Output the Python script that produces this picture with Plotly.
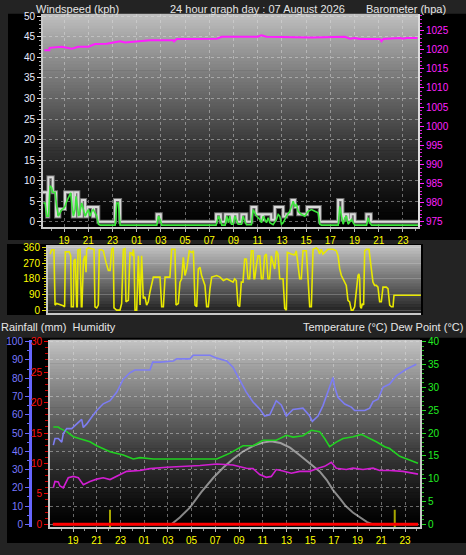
import pandas as pd
import plotly.graph_objects as go

BASE = pd.Timestamp("2026-08-06 00:00")


def ts(hours):
    return [BASE + pd.Timedelta(hours=h) if h is not None else None for h in hours]


# ---------------- DATA (hours counted from 2026-08-06 00:00) ----------------
# wind gust (kph), stepped
gust_t = [17.26, 17.60, 17.70, 18.07, 18.34, 18.61, 19.08, 19.72, 19.91, 20.18,
          20.46, 20.74, 20.93, 21.37, 21.48, 21.83, 23.21, 23.63, 26.66, 26.99,
          31.56, 31.95, 32.31, 32.83, 32.97, 33.32, 33.65, 34.07, 34.48, 34.89,
          35.31, 35.45, 36.11, 36.41, 37.10, 37.35, 37.79, 38.07, 38.34, 39.08,
          40.13, 41.64, 42.00, 42.14, 42.47, 42.69, 43.02, 43.98, 44.35, 48.24]
gust_v = [7.2, 1.3, 10.8, 7.2, 1.3, 3.1, 7.2, 1.3, 7.2, 1.3,
          5.3, 1.3, 3.6, 1.3, 3.6, 0, 5.3, 0, 1.8, 0,
          1.8, 0, 1.8, 0, 1.8, 0, 1.8, 0, 3.6, 1.8,
          0.5, 1.8, 0.5, 3.6, 1.3, 1.8, 5.3, 3.6, 1.8, 3.6,
          0, 5.3, 0.5, 1.8, 0.5, 1.8, 0, 1.8, 0, 0]

# average wind speed (kph)
avg_t = [17.29, 17.43, 17.57, 17.71, 17.84, 17.98, 18.06, 18.26, 18.39, 18.53,
         18.67, 18.81, 18.95, 19.08, 19.22, 19.44, 19.55, 19.66, 19.77, 19.91,
         19.99, 20.10, 20.21, 20.32, 20.46, 20.60, 20.74, 20.87, 21.01, 21.15,
         21.29, 21.42, 21.56, 21.70, 21.84, 21.98, 23.22, 23.35, 23.49, 23.63,
         26.66, 26.80, 26.94, 27.07, 31.56, 31.76, 31.89, 32.03, 32.31, 32.44,
         32.58, 32.69, 32.83, 32.97, 33.11, 33.24, 33.38, 33.66, 33.79, 33.93,
         34.07, 34.48, 34.62, 34.76, 34.90, 35.17, 35.31, 35.45, 35.58, 35.72,
         35.86, 36.00, 36.27, 36.55, 36.69, 36.82, 36.96, 37.10, 37.38, 37.65,
         37.93, 38.06, 38.20, 38.34, 38.62, 38.89, 39.17, 39.44, 39.72, 39.99,
         40.13, 40.27, 41.65, 41.78, 41.92, 42.06, 42.20, 42.33, 42.47, 42.75,
         42.89, 43.02, 43.99, 44.12, 44.26, 44.40, 48.24]
avg_v = [5.4, 5.4, 2.2, 2.2, 9.6, 9.1, 8.0, 8.0, 4.6, 2.2,
         3.0, 3.8, 4.0, 4.6, 5.8, 7.5, 7.9, 4.6, 2.2, 3.8,
         7.0, 4.6, 2.2, 3.4, 5.4, 3.8, 2.2, 3.0, 3.8, 2.2,
         3.4, 3.8, 3.0, 2.2, 0.24, 0, 0, 5.4, 5.4, 0,
         0, 2.2, 1.4, 0, 0, 2.2, 1.4, 0, 0, 2.2,
         0.6, 2.2, 0.24, 0.24, 2.2, 1.0, 0.24, 0.24, 2.2, 1.0,
         0.1, 0.1, 3.8, 3.0, 2.2, 1.4, 0.6, 2.2, 1.4, 0.6,
         1.8, 0.6, 0.1, 1.4, 2.6, 2.2, 0.24, 0.6, 2.2, 3.4,
         5.8, 4.6, 5.0, 3.4, 2.6, 2.2, 3.4, 3.8, 3.4, 3.0,
         0.24, 0, 0, 4.6, 2.2, 0.24, 1.8, 2.2, 0.24, 1.4,
         0.6, 0, 0, 1.8, 0.6, 0, 0]

# barometer (hPa)
baro_t = [17.37, 17.79, 17.80, 18.81, 19.64, 20.18, 21.01, 21.56, 22.53, 23.63,
          24.04, 24.73, 26.11, 28.04, 28.09, 28.31, 31.62, 32.03, 32.97, 35.00,
          35.31, 35.72, 39.44, 42.20, 42.61, 43.02, 43.44, 45.09, 45.22, 45.36,
          46.74, 47.02, 47.29, 48.20]
baro_v = [1019.9, 1019.9, 1020.5, 1020.8, 1020.3, 1020.8, 1020.8, 1021.5, 1021.6, 1022.2,
          1021.9, 1022.1, 1022.5, 1022.5, 1022.2, 1022.8, 1022.9, 1023.4, 1023.4, 1023.4,
          1023.8, 1023.4, 1023.2, 1023.4, 1022.9, 1023.1, 1022.8, 1022.8, 1022.2, 1022.8,
          1023.1, 1022.9, 1023.1, 1023.1]

# wind direction (degrees)
wdir_t = [17.23, 17.37, 17.56, 17.65, 17.78, 18.06, 18.34, 18.45, 18.51, 18.84,
          18.96, 19.01, 19.18, 19.23, 19.35, 19.46, 19.51, 19.57, 19.74, 19.85,
          19.90, 20.02, 20.15, 20.24, 20.29, 20.43, 20.71, 20.91, 20.99, 21.13,
          21.27, 21.35, 21.55, 21.69, 21.91, 22.11, 22.25, 22.39, 22.52, 22.58,
          22.80, 23.08, 23.22, 23.36, 23.50, 23.58, 23.78, 23.92, 24.06, 24.14,
          24.20, 24.25, 24.34, 24.48, 24.62, 24.76, 24.89, 25.03, 25.17, 25.31,
          25.45, 25.59, 25.87, 26.43, 26.57, 26.71, 26.85, 27.26, 27.40, 27.68,
          27.77, 27.96, 28.10, 28.24, 28.38, 28.52, 28.66, 28.88, 29.08, 29.22,
          29.36, 29.50, 29.63, 29.77, 29.91, 30.19, 30.33, 30.47, 30.61, 30.75,
          31.17, 31.45, 31.73, 32.01, 32.29, 32.54,
          32.67, 32.81, 32.95, 33.09, 33.23, 33.37, 33.51, 33.65, 33.79, 33.93,
          34.07, 34.21, 34.29, 34.35, 34.49, 34.63, 34.77, 34.91, 35.04, 35.18,
          35.32, 35.46, 35.60, 35.74, 36.02, 36.16, 36.30, 36.44, 36.72, 36.86,
          37.00, 37.08, 37.41, 37.69, 37.83, 38.11, 38.25, 38.39, 38.67, 38.95,
          39.09, 39.23, 39.50, 39.64, 39.78, 39.92, 40.06, 40.20, 40.34, 40.48,
          40.90, 41.18, 41.32, 41.46, 41.60, 41.74, 42.01, 42.15, 42.29, 42.43,
          42.57, 42.71, 42.85, 42.99, 43.07, 43.13, 43.19, 43.27, 43.35, 43.46,
          43.55, 43.69, 43.91, 44.02, 44.10, 44.24, 44.38, 44.52, 44.66, 44.80,
          44.94, 45.08, 45.36, 45.50, 45.64, 45.78, 45.92, 46.00, 46.20, 47.03,
          48.25]
wdir_v = [324, 349, 349, 29, 38, 32, 25, 19, 337, 337,
          314, 19, 19, 286, 295, 19, 19, 349, 352, 19,
          19, 286, 314, 219, 352, 360, 356, 352, 19, 13,
          29, 349, 349, 343, 276, 229, 229, 352, 360, 13,
          0, 0, 38, 352, 356, 48, 57, 333, 330, 314,
          352, 314, 0, 0, 314, 29, 314, 67, 76, 29,
          48, 105, 191, 191, 19, 19, 191, 191, 352, 352,
          29, 38, 162, 181, 305, 200, 238, 343, 333, 343,
          29, 19, 238, 248, 200, 143, 19, 19, 124, 191,
          200, 191, 171, 181, 171, 162,
          181, 171, 29, 19, 162, 162, 295, 295, 181, 181,
          343, 343, 181, 181, 257, 314, 314, 181, 181, 314,
          324, 181, 181, 314, 238, 343, 324, 181, 181, 10,
          0, 333, 324, 318, 343, 181, 181, 343, 343, 19,
          19, 352, 360, 352, 324, 352, 324, 333, 343, 352,
          352, 343, 314, 238, 200, 181, 143, 57, 48, 0,
          0, 19, 114, 200, 210, 181, 19, 10, 38, 29,
          343, 352, 352, 295, 257, 162, 143, 143, 133, 48,
          48, 133, 133, 124, 29, 19, 19, 86, 86, 86,
          86]

# humidity (%)
hum_t = [17.34, 17.48, 17.76, 18.05, 18.18, 18.47, 18.89, 19.73, 19.87, 20.16,
         20.58, 21.00, 21.55, 22.12, 22.68, 23.24, 23.81, 24.23, 25.49, 25.72,
         26.34, 27.46, 27.74, 28.87, 29.14, 30.55, 31.12, 31.96, 32.49, 33.06,
         33.61, 34.18, 34.74, 35.16, 35.59, 36.14, 36.56, 36.99, 37.55, 38.39,
         38.96, 39.18, 39.66, 40.08, 40.50, 40.92, 41.07, 41.34, 41.91, 42.47,
         42.75, 43.60, 44.02, 44.30, 44.72, 45.14, 45.70, 46.26, 47.10, 47.95]
hum_v = [43.4, 47.0, 47.0, 45.0, 49.7, 52.4, 52.4, 57.5, 53.0, 55.0,
         58.8, 62.3, 66.0, 67.7, 72.3, 79.5, 83.0, 84.5, 84.5, 88.8,
         88.8, 89.4, 90.6, 90.6, 92.6, 92.6, 91.0, 89.4, 86.0, 79.5,
         72.4, 67.0, 63.2, 59.3, 60.0, 67.7, 65.4, 59.3, 62.9, 63.6,
         59.3, 56.4, 59.3, 65.0, 73.1, 80.4, 75.0, 69.6, 65.9, 64.2,
         62.3, 62.3, 63.6, 67.2, 68.5, 75.0, 76.8, 81.3, 84.9, 87.6]

# temperature (°C)
temp_t = [17.34, 17.76, 17.90, 18.47, 19.03, 19.73, 20.43, 21.00, 22.12, 23.24,
          24.08, 24.65, 25.77, 31.12, 31.68, 32.24, 33.33, 34.18, 35.02, 36.14,
          36.99, 37.55, 38.39, 39.09, 39.80, 40.22, 40.64, 41.20, 41.77, 42.61,
          43.31, 44.02, 44.58, 45.28, 45.70, 46.55, 47.39, 48.09]
temp_v = [21.3, 21.3, 21.0, 20.3, 19.2, 18.7, 18.1, 17.2, 15.9, 15.2,
          14.3, 14.6, 14.3, 14.3, 14.9, 15.6, 17.2, 17.2, 18.4, 18.4,
          19.5, 19.1, 19.4, 20.6, 20.3, 18.8, 17.0, 18.0, 18.8, 19.2,
          19.7, 18.8, 18.1, 17.0, 16.6, 14.9, 14.1, 13.4]

# dew point (°C)
dew_t = [17.34, 17.48, 17.76, 17.90, 18.18, 18.33, 18.60, 19.03, 19.45, 19.87,
         20.43, 21.00, 21.55, 22.12, 22.68, 23.53, 24.65, 25.49, 26.90, 28.58,
         29.71, 31.12, 32.49, 33.61, 34.18, 34.74, 35.30, 35.72, 36.14, 36.71,
         37.41, 38.11, 38.96, 39.66, 40.22, 40.78, 41.20, 42.04, 42.61, 43.45,
         44.30, 44.86, 45.70, 46.82, 48.09]
dew_v = [8.0, 9.4, 9.3, 8.4, 8.0, 8.7, 10.2, 10.5, 10.2, 8.7,
         9.4, 9.9, 10.2, 9.8, 10.5, 11.6, 11.8, 12.2, 12.5, 12.7,
         12.9, 13.2, 13.0, 12.3, 12.2, 10.9, 10.3, 10.5, 12.0, 11.7,
         11.2, 11.6, 11.6, 12.3, 12.7, 13.6, 12.3, 12.0, 12.3, 12.0,
         12.3, 11.8, 11.8, 11.6, 11.0]

# solar curve (drawn on the temperature scale)
sol_t = [17.30, 27.30, 28.00, 28.87, 29.80, 30.83, 31.70, 32.49, 33.30, 34.20,
         35.00, 35.70, 36.50, 37.30, 38.10, 39.00, 39.80, 40.40, 40.90, 41.50,
         42.00, 42.60, 43.20, 43.80, 44.30, 48.10]
sol_v = [0, 0, 1.5, 3.7, 7.0, 10.2, 12.5, 14.3, 15.9, 17.2,
         17.9, 18.2, 17.8, 16.8, 15.2, 13.4, 11.6, 9.7, 7.6, 5.7,
         4.0, 2.6, 1.5, 0.5, 0, 0]

# rainfall (mm)
rain_t = [17.30, 48.10]
rain_v = [0, 0]

# daily rollover markers
marker_t = [22.12, 46.13]
marker_h = 3.2

# tick labels
TICK0 = "2026-08-06 19:00"
title_main = "24 hour graph day : 07 August 2026"

# ---------------- LAYOUT HELPERS ----------------
W, H = 466, 555


def px(x):
    return x / W


def py(y):
    return 1 - y / H


BG = "#232323"
FONT = "Liberation Sans"
GRID = "rgba(225,225,225,0.45)"
AXL = "#c8c8c8"

shapes = []


def box(x0, y0, x1, y1, color):
    shapes.append(dict(type="rect", xref="paper", yref="paper", x0=px(x0), x1=px(x1),
                       y0=py(y1), y1=py(y0), fillcolor=color, line_width=0, layer="below"))


def gradient(x0, x1, y0, y1, top, bottom, gamma, n):
    for i in range(n):
        t = (i + 0.5) / n
        g = int(round(bottom + (top - bottom) * (1 - t) ** gamma))
        ya = y0 + (y1 - y0) * i / n
        yb = min(y1, y0 + (y1 - y0) * (i + 1) / n + 0.7)
        shapes.append(dict(type="rect", xref="paper", yref="paper", x0=px(x0), x1=px(x1),
                           y0=py(yb), y1=py(ya), fillcolor=f"rgb({g},{g},{g})",
                           line_width=0, layer="below"))


box(8, 10, 466, 239, "#000000")
box(7, 243, 423, 315, "#000000")
box(7, 338, 466, 546, "#000000")
gradient(43, 418, 10, 226, 192, 0, 1.3, 72)
gradient(48, 421, 244, 313, 198, 30, 1.0, 23)
gradient(50, 420, 340, 530, 196, 0, 1.3, 64)

fig = go.Figure()

# top panel
fig.add_trace(go.Scatter(x=ts(gust_t), y=gust_v, mode="lines", line=dict(color="#6e6e6e", width=4, shape="hv"),
                         xaxis="x", yaxis="y", hoverinfo="skip"))
fig.add_trace(go.Scatter(x=ts(gust_t), y=gust_v, mode="lines", line=dict(color="#dadada", width=2, shape="hv"),
                         xaxis="x", yaxis="y", name="Gust"))
fig.add_trace(go.Scatter(x=ts(avg_t), y=avg_v, mode="lines", line=dict(color="#3ce63c", width=1.6),
                         xaxis="x", yaxis="y3", name="Average"))
fig.add_trace(go.Scatter(x=ts(baro_t), y=baro_v, mode="lines", line=dict(color="#ff1eff", width=2),
                         xaxis="x", yaxis="y2", name="Barometer"))

# wind direction panel
fig.add_trace(go.Scatter(x=ts(wdir_t), y=wdir_v, mode="lines", line=dict(color="#e8e800", width=1.6),
                         xaxis="x2", yaxis="y4", name="Direction"))

# bottom panel
fig.add_trace(go.Scatter(x=ts(rain_t), y=rain_v, mode="lines", line=dict(color="#ff0000", width=3),
                         xaxis="x3", yaxis="y8", name="Rain"))
fig.add_trace(go.Scatter(x=ts(sol_t), y=sol_v, mode="lines", line=dict(color="rgba(220,220,220,0.6)", width=2),
                         xaxis="x3", yaxis="y6", name="Solar"))
mx, my = [], []
for t in marker_t:
    mx += [t, t, None]
    my += [-0.6, marker_h, None]
fig.add_trace(go.Scatter(x=ts(mx), y=my, mode="lines", line=dict(color="#a8a800", width=2),
                         xaxis="x3", yaxis="y6", name="Rollover"))
fig.add_trace(go.Scatter(x=ts(hum_t), y=hum_v, mode="lines", line=dict(color="#7d7df2", width=1.6),
                         xaxis="x3", yaxis="y7", name="Humidity"))
fig.add_trace(go.Scatter(x=ts(temp_t), y=temp_v, mode="lines", line=dict(color="#22d022", width=1.6),
                         xaxis="x3", yaxis="y6", name="Temperature"))
fig.add_trace(go.Scatter(x=ts(dew_t), y=dew_v, mode="lines", line=dict(color="#d21ed2", width=1.6),
                         xaxis="x3", yaxis="y6", name="Dew Point"))

HOUR = 3600000
xcommon = dict(type="date", tick0=TICK0, dtick=2 * HOUR, tickformat="%H",
               tickfont=dict(color="#ffff00", size=10, family=FONT), ticks="outside", ticklen=3,
               tickcolor="#bbbbbb", showgrid=True, gridcolor=GRID, griddash="dot", gridwidth=1,
               showline=True, linecolor=AXL, linewidth=2, zeroline=False,
               minor=dict(dtick=HOUR, ticks="outside", ticklen=2, tickcolor="#999999", showgrid=False))

fig.update_layout(
    width=W, height=H, margin=dict(l=0, r=0, t=0, b=0),
    paper_bgcolor=BG, plot_bgcolor="rgba(0,0,0,0)", showlegend=False,
    font=dict(family=FONT, color="#e6e6e6"),
    shapes=shapes,
    xaxis=dict(domain=[px(43), px(418)], anchor="y",
               range=ts([17.26, 48.24]), **xcommon),
    yaxis=dict(domain=[py(226), py(10)], anchor="x", range=[-1.32, 50.6], tick0=0, dtick=5,
               tickfont=dict(color="#e8ecff", size=10, family=FONT), ticks="outside", ticklen=4,
               tickcolor="#dddddd", showgrid=True, gridcolor=GRID, griddash="dot",
               showline=True, linecolor=AXL, linewidth=2, zeroline=False,
               minor=dict(dtick=1, ticks="outside", ticklen=2, tickcolor="#aaaaaa", showgrid=False)),
    yaxis2=dict(overlaying="y", anchor="x", side="right", range=[973.58, 1029.39], tick0=975, dtick=5,
                tickfont=dict(color="#ff22ff", size=10, family=FONT), ticks="outside", ticklen=4,
                tickcolor="#ff22ff", showgrid=False, showline=True, linecolor="#dddddd", linewidth=2,
                zeroline=False,
                minor=dict(dtick=1, ticks="outside", ticklen=2, tickcolor="#dd22dd", showgrid=False)),
    yaxis3=dict(overlaying="y", anchor="x", range=[-0.48, 51.44], visible=False),
    xaxis2=dict(domain=[px(48), px(421)], anchor="y4", type="date", range=ts([17.06, 48.26]),
                showticklabels=False, ticks="", showgrid=False, showline=True, linecolor=AXL,
                linewidth=2, zeroline=False),
    yaxis4=dict(domain=[py(313), py(244)], anchor="x2", range=[-17.1, 377.1],
                tickvals=[0, 90, 180, 270, 360], tickfont=dict(color="#ffff00", size=10, family=FONT),
                ticks="outside", ticklen=4, tickcolor="#e0e000", showgrid=True,
                gridcolor="rgba(230,230,230,0.25)", showline=True, linecolor=AXL, linewidth=2,
                zeroline=False,
                minor=dict(tickvals=[15, 30, 45, 60, 75, 105, 120, 135, 150, 165, 195, 210, 225, 240,
                                     255, 285, 300, 315, 330, 345],
                           ticks="outside", ticklen=2, tickcolor="#c8c800", showgrid=False)),
    yaxis5=dict(overlaying="y4", anchor="free", position=px(431), side="right", range=[-17.1, 377.1],
                tickvals=[0, 90, 180, 270, 360], ticktext=["N", "E", "S", "W", "N"],
                tickfont=dict(color="#f0f0f0", size=13, family=FONT), ticks="", showline=False,
                showgrid=False, zeroline=False),
    xaxis3=dict(domain=[px(50), px(420)], anchor="y6", range=ts([17.06, 48.26]), **xcommon),
    yaxis6=dict(domain=[py(530), py(340)], anchor="x3", side="right", range=[-0.649, 40.43],
                tick0=0, dtick=5, tickfont=dict(color="#22ee22", size=10, family=FONT),
                ticks="outside", ticklen=4, tickcolor="#22dd22", showgrid=False,
                showline=True, linecolor=AXL, linewidth=2, zeroline=False,
                minor=dict(dtick=1, ticks="outside", ticklen=2, tickcolor="#22bb22", showgrid=False)),
    yaxis7=dict(overlaying="y6", anchor="free", position=px(30), side="left", range=[-1.62, 101.08],
                tick0=0, dtick=10, tickfont=dict(color="#7878ff", size=10, family=FONT),
                ticks="outside", ticklen=4, tickcolor="#6a6aff", showgrid=True, gridcolor=GRID,
                griddash="dot", showline=True, linecolor="#6666ff", linewidth=3, zeroline=False,
                minor=dict(dtick=5, ticks="outside", ticklen=2, tickcolor="#6a6aff", showgrid=False)),
    yaxis8=dict(overlaying="y6", anchor="x3", side="left", range=[-0.486, 30.32],
                tick0=0, dtick=5, tickfont=dict(color="#ff1010", size=10, family=FONT),
                ticks="outside", ticklen=4, tickcolor="#ee0000", showgrid=False,
                showline=True, linecolor=AXL, linewidth=2, zeroline=False,
                minor=dict(dtick=1, ticks="outside", ticklen=3, tickcolor="#cc0000", showgrid=False)),
)

tf = dict(family=FONT, size=11, color="#e6e6e6")
ann = [
    dict(text="Windspeed (kph)", x=px(35), y=py(5), xanchor="left"),
    dict(text=title_main, x=px(257), y=py(5), xanchor="center"),
    dict(text="Barometer (hpa)", x=px(447), y=py(5), xanchor="right"),
    dict(text="Rainfall (mm)  Humidity", x=px(0), y=py(327), xanchor="left"),
    dict(text="Temperature (°C) Dew Point (°C)", x=px(464), y=py(327), xanchor="right"),
]
for a in ann:
    fig.add_annotation(xref="paper", yref="paper", showarrow=False, yanchor="middle",
                       borderpad=0, font=tf, **a)

fig.write_html("out.html", config={"displayModeBar": False, "staticPlot": True},
               post_script="document.body.style.margin='0';document.body.style.overflow='hidden';")
